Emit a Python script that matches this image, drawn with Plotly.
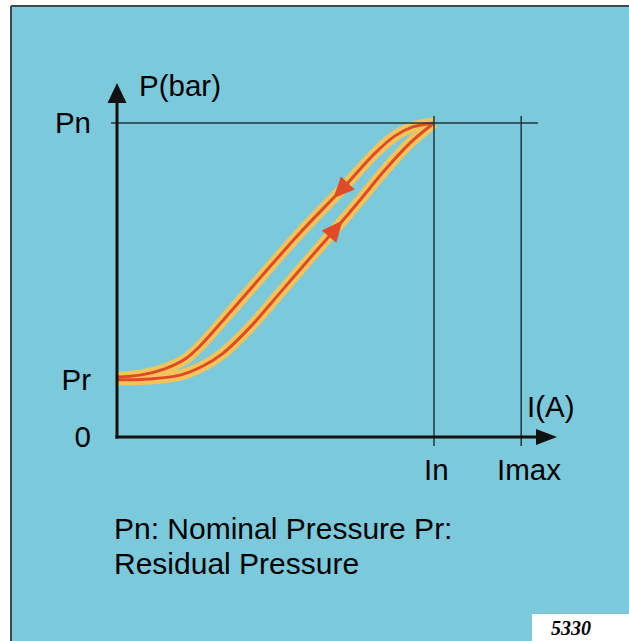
import numpy as np
import plotly.graph_objects as go

# Reference levels (normalised units)
P_NOMINAL = 10.0
P_RESIDUAL = 1.82
I_NOMINAL = 10.0
I_MAX = 12.75

# Rising branch (current increasing)
rise_i = [0.00, 1.04, 1.99, 2.71, 3.31, 4.20, 5.14, 6.09, 6.81, 7.67, 8.45, 9.24, 10.00]
rise_p = [1.82, 1.85, 1.97, 2.26, 2.64, 3.50, 4.59, 5.70, 6.53, 7.55, 8.50, 9.36, 10.00]

# Falling branch (current decreasing)
fall_i = [10.00, 9.31, 8.77, 8.14, 7.13, 5.77, 4.51, 3.41, 2.62, 2.15, 1.51, 0.73, 0.00]
fall_p = [10.00, 9.87, 9.59, 9.04, 7.93, 6.50, 5.06, 3.79, 2.90, 2.48, 2.17, 1.97, 1.91]

# Tick labels
y_tick_vals = [0, P_RESIDUAL, P_NOMINAL]
y_tick_text = ["0", "Pr", "Pn"]
x_tick_vals = [I_NOMINAL, I_MAX]
x_tick_text = ["In", "Imax"]

# Where the direction arrows sit on each branch (current value)
arrow_rise_i = 6.83
arrow_fall_i = 7.13

# ---- styling / layout ----
W, H = 629, 641
ML, MT = 11, 6
X_RANGE = [-3.344, 16.151]
Y_RANGE = [-6.497, 13.726]
BG = "#7cc9db"
HALO = "#f2c45a"
CORE = "#df4a27"
INK = "#111111"
THIN = "#24343a"
FONT = "Liberation Sans, Arial, sans-serif"

px_x = (W - ML) / (X_RANGE[1] - X_RANGE[0])
px_y = (H - MT) / (Y_RANGE[1] - Y_RANGE[0])

fig = go.Figure()

for xs, ys in [(rise_i, rise_p), (fall_i, fall_p)]:
    fig.add_trace(go.Scatter(x=xs, y=ys, mode="lines",
                             line=dict(color=HALO, width=11, shape="spline", smoothing=1.0),
                             hoverinfo="skip", showlegend=False))
for xs, ys in [(rise_i, rise_p), (fall_i, fall_p)]:
    fig.add_trace(go.Scatter(x=xs, y=ys, mode="lines",
                             line=dict(color=CORE, width=3, shape="spline", smoothing=1.0),
                             hoverinfo="skip", showlegend=False))


def tri_path(ux, uy, length, width):
    """Triangle (in pixels) around its centroid, pointing along (ux, uy)."""
    n = np.hypot(ux, uy)
    ux, uy = ux / n, uy / n
    vx, vy = -uy, ux
    tip = (ux * length * 2 / 3, uy * length * 2 / 3)
    b = (-ux * length / 3, -uy * length / 3)
    p1 = (b[0] + vx * width / 2, b[1] + vy * width / 2)
    p2 = (b[0] - vx * width / 2, b[1] - vy * width / 2)
    return "M{:.2f},{:.2f} L{:.2f},{:.2f} L{:.2f},{:.2f} Z".format(
        tip[0], tip[1], p1[0], p1[1], p2[0], p2[1])


def branch_arrow(xs, ys, at, forward):
    xs = np.asarray(xs)
    ys = np.asarray(ys)
    order = np.argsort(xs)
    sx, sy = xs[order], ys[order]
    y_at = float(np.interp(at, sx, sy))
    k = int(np.clip(np.searchsorted(sx, at), 1, len(sx) - 1))
    lo, hi = max(k - 1, 0), min(k + 1, len(sx) - 1)
    dx = (sx[hi] - sx[lo]) * px_x
    dy = (sy[hi] - sy[lo]) * px_y
    if not forward:
        dx, dy = -dx, -dy
    return dict(type="path", xref="x", yref="y", xsizemode="pixel", ysizemode="pixel",
                xanchor=at, yanchor=y_at, path=tri_path(dx, dy, 21, 19),
                fillcolor=CORE, line=dict(width=0))


shapes = []
# thin reference lines
shapes.append(dict(type="line", xref="x", yref="y", x0=-0.19, x1=13.28,
                   y0=P_NOMINAL, y1=P_NOMINAL, line=dict(color=THIN, width=1.5)))
for xv in x_tick_vals:
    shapes.append(dict(type="line", xref="x", yref="y", x0=xv, x1=xv,
                       y0=-0.29, y1=10.22, line=dict(color=THIN, width=1.5)))
# axes
y_tip = 11.27
x_tip = 13.88
shapes.append(dict(type="line", xref="x", yref="y", x0=0, x1=0, y0=-0.05, y1=y_tip - 0.5,
                   line=dict(color=INK, width=3)))
shapes.append(dict(type="line", xref="x", yref="y", x0=-0.05, x1=x_tip - 0.5, y0=0, y1=0,
                   line=dict(color=INK, width=3)))
shapes.append(dict(type="path", xref="x", yref="y", xsizemode="pixel", ysizemode="pixel",
                   xanchor=0, yanchor=y_tip, path="M0,0 L-9.5,-20 L9.5,-20 Z",
                   fillcolor=INK, line=dict(width=0)))
shapes.append(dict(type="path", xref="x", yref="y", xsizemode="pixel", ysizemode="pixel",
                   xanchor=x_tip, yanchor=0, path="M0,0 L-21,8 L-21,-8 Z",
                   fillcolor=INK, line=dict(width=0)))
# direction arrows on the branches
shapes.append(branch_arrow(rise_i, rise_p, arrow_rise_i, True))
shapes.append(branch_arrow(fall_i, fall_p, arrow_fall_i, False))
# frame edges and code box
shapes.append(dict(type="line", xref="paper", yref="paper", x0=0, x1=0, y0=0, y1=1,
                   line=dict(color="#3c4a4f", width=2)))
shapes.append(dict(type="line", xref="paper", yref="paper", x0=0, x1=1, y0=1, y1=1,
                   line=dict(color="#3c4a4f", width=2)))
shapes.append(dict(type="rect", xref="paper", yref="paper",
                   x0=(532 - ML) / (W - ML), x1=1.01, y0=-0.01, y1=(H - 614) / (H - MT),
                   fillcolor="white", line=dict(width=0)))

TXT = dict(family=FONT, size=29.5, color="black")
NOTE = dict(family=FONT, size=30, color="black")
annotations = [
    dict(x=0.63, y=11.21, xref="x", yref="y", text="P(bar)", showarrow=False,
         xanchor="left", yanchor="middle", font=TXT),
    dict(x=12.88, y=0.98, xref="x", yref="y", text="I(A)", showarrow=False,
         xanchor="left", yanchor="middle", font=TXT),
    dict(x=-0.15, y=(437 - 529) / 31.4, xref="x", yref="y", text="Pn: Nominal Pressure Pr:",
         showarrow=False, xanchor="left", yanchor="middle", font=NOTE),
    dict(x=-0.15, y=(437 - 564) / 31.4, xref="x", yref="y", text="Residual Pressure",
         showarrow=False, xanchor="left", yanchor="middle", font=NOTE),
    dict(x=(571 - ML) / (W - ML), y=(H - 628) / (H - MT), xref="paper", yref="paper",
         text="5330", showarrow=False, xanchor="center", yanchor="middle",
         font=dict(family="Liberation Serif, Times New Roman, serif", size=20,
                   color="black", weight="bold", style="italic")),
]
# current tick labels under the axis
for val, txt, dx in zip(x_tick_vals, x_tick_text, [2, 8]):
    annotations.append(dict(x=val, y=0, xref="x", yref="y", text=txt, showarrow=False,
                            xanchor="center", yanchor="middle", xshift=dx, yshift=-33,
                            font=TXT))

fig.update_layout(
    width=W, height=H,
    margin=dict(l=ML, r=0, t=MT, b=0, pad=0),
    paper_bgcolor="white", plot_bgcolor=BG,
    shapes=shapes, annotations=annotations,
    xaxis=dict(range=X_RANGE, showgrid=False, zeroline=False, showline=False,
               showticklabels=False, ticks="", fixedrange=True),
    yaxis=dict(range=Y_RANGE, showgrid=False, zeroline=False, showline=False,
               tickvals=y_tick_vals, ticktext=y_tick_text, ticks="",
               anchor="free", position=(117 - ML) / (W - ML), ticklabelstandoff=26,
               tickfont=TXT, fixedrange=True),
)

fig.write_html("out.html")
